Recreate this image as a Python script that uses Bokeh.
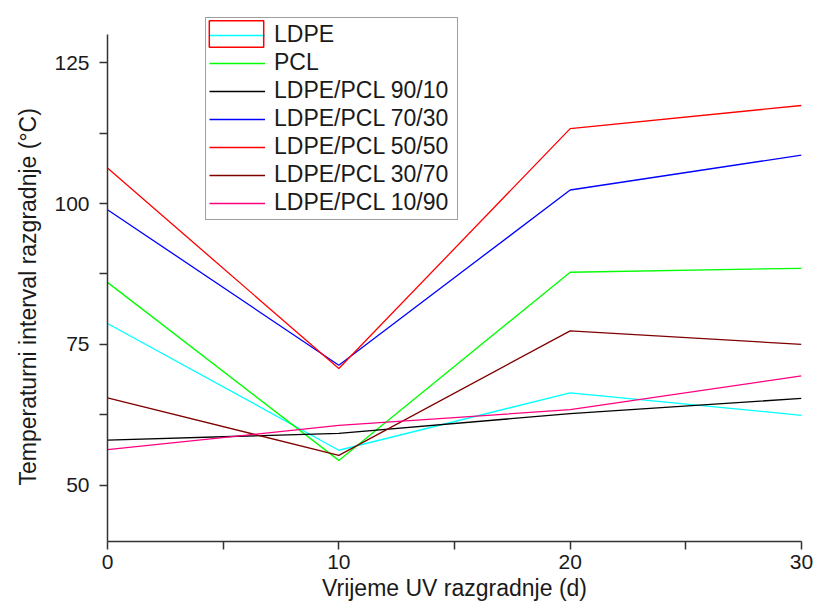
from bokeh.plotting import figure
from bokeh.models import Range1d, FixedTicker, Legend, LegendItem, Title
from bokeh.embed import file_html
from bokeh.resources import INLINE

days = [0, 10, 20, 30]
ldpe = [78.7, 56.2, 66.4, 62.4]
pcl = [86.0, 54.4, 87.8, 88.5]
b9010 = [58.0, 59.2, 62.7, 65.4]
b7030 = [98.9, 71.3, 102.4, 108.6]
b5050 = [106.3, 70.7, 113.3, 117.4]
b3070 = [65.5, 55.3, 77.4, 75.0]
b1090 = [56.3, 60.6, 63.4, 69.4]

names = ["LDPE", "PCL", "LDPE/PCL 90/10", "LDPE/PCL 70/30",
         "LDPE/PCL 50/50", "LDPE/PCL 30/70", "LDPE/PCL 10/90"]
series = [ldpe, pcl, b9010, b7030, b5050, b3070, b1090]
colors = ["#00FFFF", "#00FF00", "#000000", "#0000FF", "#FF0000", "#800000", "#FF0080"]

x_ticks = [0, 10, 20, 30]
x_minor = [5, 15, 25]
y_ticks = [50, 75, 100, 125]
y_minor = [62.5, 87.5, 112.5]
y_axis_span = (40, 130)

FONT = "Liberation Sans"
TXT = "#1a1a1a"

# frame reaches the top of the canvas so the legend (which sits above the axis end) is not clipped
p = figure(width=814, height=610, output_backend="svg", toolbar_location=None,
           title_location=None,
           x_range=Range1d(0, 30), y_range=Range1d(40, 136.04),
           min_border_left=107, min_border_right=13, min_border_top=0, min_border_bottom=69)
p.outline_line_color = None
p.xgrid.visible = False
p.ygrid.visible = False
p.background_fill_color = "white"
p.border_fill_color = "white"

renderers = []
for ys, c in zip(series, colors):
    r = p.line(days, ys, line_color=c, line_width=1.3)
    renderers.append(r)

for ax in (p.xaxis[0], p.yaxis[0]):
    ax.axis_line_color = "#333333"
    ax.axis_line_width = 1.5
    ax.major_tick_line_color = "#333333"
    ax.minor_tick_line_color = "#333333"
    ax.major_tick_line_width = 1.5
    ax.minor_tick_line_width = 1.5
    ax.major_tick_in = 0
    ax.major_tick_out = 8
    ax.minor_tick_in = 0
    ax.minor_tick_out = 8
    ax.major_label_text_font = FONT
    ax.major_label_text_font_size = "21px"
    ax.major_label_text_color = TXT
    ax.axis_label_text_font = FONT
    ax.axis_label_text_font_size = "23px"
    ax.axis_label_text_font_style = "normal"
    ax.axis_label_text_color = TXT

p.xaxis[0].ticker = FixedTicker(ticks=x_ticks, minor_ticks=x_minor)
p.yaxis[0].ticker = FixedTicker(ticks=y_ticks, minor_ticks=y_minor)
p.yaxis[0].bounds = y_axis_span
p.xaxis[0].axis_label = "Vrijeme UV razgradnje (d)"
p.xaxis[0].major_label_standoff = 5
p.yaxis[0].major_label_standoff = 10
p.xaxis[0].axis_label_standoff = 3

ytitle = Title(text="Temperaturni interval razgradnje (°C)", align="left", offset=56,
               text_font=FONT, text_font_size="23px", text_font_style="normal",
               text_color=TXT, standoff=22)
p.add_layout(ytitle, "left")

items = [LegendItem(label=n, renderers=[r]) for n, r in zip(names, renderers)]
legend = Legend(items=items, location=(98, 321),
                glyph_width=56, glyph_height=26, spacing=1, padding=3,
                label_standoff=9, label_width=180, margin=0,
                label_text_font=FONT, label_text_font_size="23px", label_text_color=TXT,
                border_line_color="#404040", border_line_width=1.5,
                background_fill_color="white", background_fill_alpha=1.0)
p.add_layout(legend, "center")

# red selection box drawn around the first legend sample (second, frameless legend)
box_r = p.quad(left=[-100], right=[-99], bottom=[-100], top=[-99],
               fill_alpha=0, line_color="#FF0000", line_width=1.5)
box_legend = Legend(items=[LegendItem(label=" ", renderers=[box_r])],
                    location=(95, 491), glyph_width=68, glyph_height=33,
                    padding=0, margin=0, spacing=0, label_standoff=0,
                    label_text_font_size="1px", label_width=1, label_height=1,
                    border_line_color=None, background_fill_alpha=0)
p.add_layout(box_legend, "center")

open("out.html", "w").write(file_html(p, INLINE))
